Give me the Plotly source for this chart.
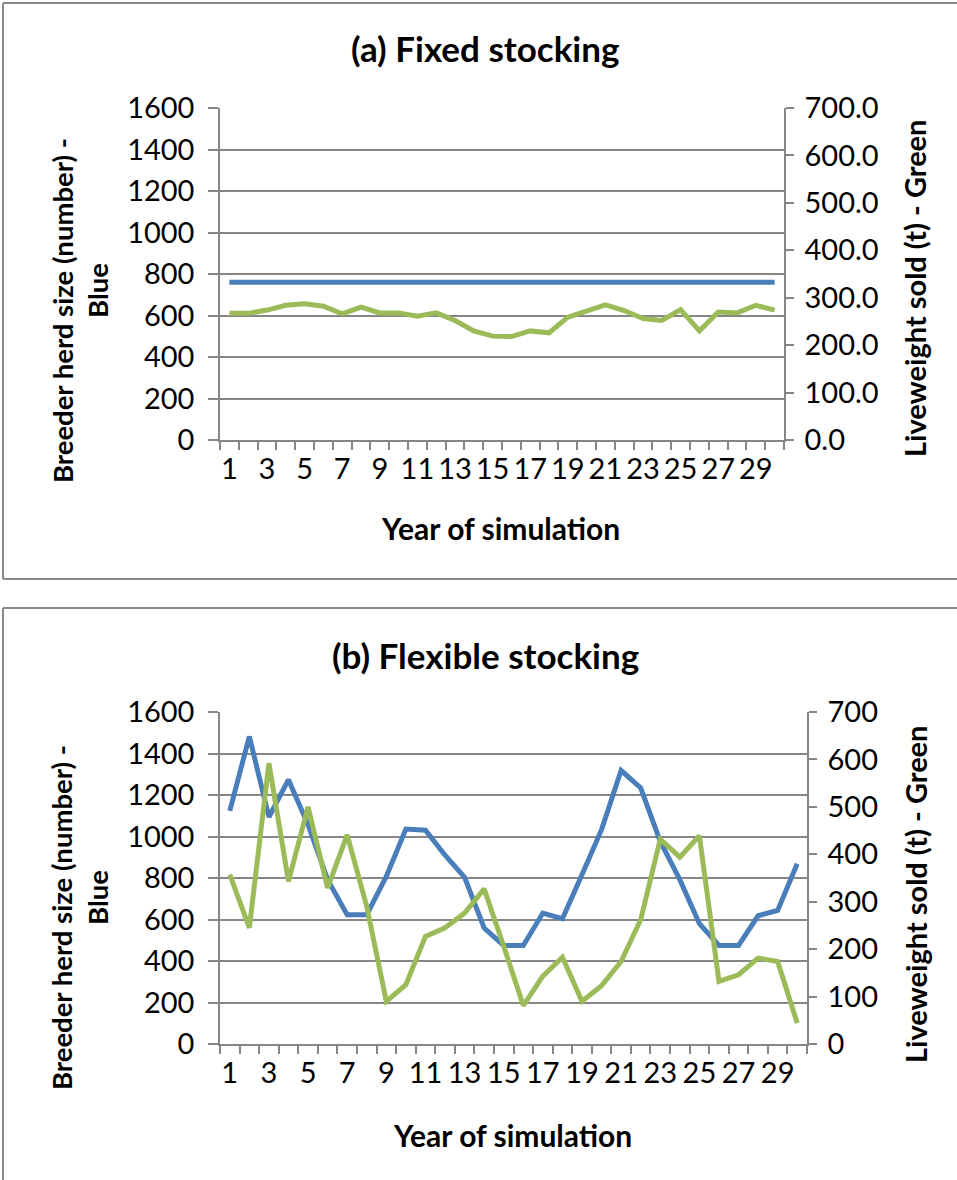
import plotly.graph_objects as go
from plotly.subplots import make_subplots

years = list(range(1, 31))

# (a) Fixed stocking
fixed_herd = [760] * 30
fixed_lw = [267, 267, 274, 284, 287, 282, 266, 280, 268, 268,
            261, 268, 252, 230, 219, 218, 230, 226, 259, 271,
            285, 273, 256, 252, 275, 230, 270, 268, 284, 274]

# (b) Flexible stocking
flex_herd = [1124, 1482, 1094, 1274, 1057, 792, 623, 623, 808, 1036,
             1030, 910, 803, 559, 475, 475, 631, 604, 816, 1033,
             1318, 1234, 976, 792, 580, 475, 475, 618, 644, 869]
flex_lw = [357, 245, 592, 343, 500, 329, 441, 290, 90, 125,
           227, 245, 276, 327, 206, 81, 143, 183, 90, 123,
           174, 262, 432, 394, 439, 132, 146, 181, 174, 44]

x_ticks = list(range(1, 30, 2))
left_ticks = list(range(0, 1601, 200))
right_ticks = list(range(0, 701, 100))

BLUE = "#4A7EBB"
GREEN = "#9BBB59"
GRID = "#868686"
FONT = "Lato"
W, H = 957, 1180

fig = make_subplots(rows=2, cols=1,
                    specs=[[{"secondary_y": True}], [{"secondary_y": True}]])

fig.add_trace(go.Scatter(x=years, y=fixed_herd, mode="lines",
                         line=dict(color=BLUE, width=5), showlegend=False),
              row=1, col=1, secondary_y=False)
fig.add_trace(go.Scatter(x=years, y=fixed_lw, mode="lines",
                         line=dict(color=GREEN, width=5), showlegend=False),
              row=1, col=1, secondary_y=True)
fig.add_trace(go.Scatter(x=years, y=flex_herd, mode="lines",
                         line=dict(color=BLUE, width=5), showlegend=False),
              row=2, col=1, secondary_y=False)
fig.add_trace(go.Scatter(x=years, y=flex_lw, mode="lines",
                         line=dict(color=GREEN, width=5), showlegend=False),
              row=2, col=1, secondary_y=True)

def px_x(p):
    return p / W

def px_y(p):
    return 1 - p / H

tick_font = dict(family=FONT, size=29, color="black")

xcommon = dict(range=[0.5, 30.5], tickvals=x_ticks, ticktext=[str(v) for v in x_ticks],
               showgrid=False, zeroline=False, showline=True, linecolor=GRID, linewidth=1.5,
               ticks="outside", ticklen=0, tickcolor=GRID, tickfont=tick_font,
               automargin=False, ticklabelstandoff=2,
               minor=dict(tick0=0.5, dtick=1, ticks="outside", ticklen=8,
                          tickcolor=GRID, tickwidth=1.5, showgrid=False))
ycommon = dict(range=[0, 1600], tickvals=left_ticks, showgrid=True, gridcolor=GRID,
               gridwidth=1.5, zeroline=False, showline=True, linecolor=GRID, linewidth=1.5,
               ticks="outside", ticklen=10, tickcolor=GRID, tickwidth=1.5,
               tickfont=tick_font, automargin=False, ticklabelstandoff=8)
y2common = dict(range=[0, 700], tickvals=right_ticks, showgrid=False, zeroline=False,
                showline=True, linecolor=GRID, linewidth=1.5, ticks="outside",
                ticklen=8, tickcolor=GRID, tickwidth=1.5, tickfont=tick_font,
                automargin=False, ticklabelstandoff=5)

fig.update_layout(
    xaxis=dict(domain=[px_x(220), px_x(784)], **xcommon),
    xaxis2=dict(domain=[px_x(220), px_x(807)], **xcommon),
    yaxis=dict(domain=[px_y(440), px_y(108)], **ycommon),
    yaxis2=dict(tickformat=".1f", **y2common),
    yaxis3=dict(domain=[px_y(1044), px_y(712)], **ycommon),
    yaxis4=dict(tickformat="d", **y2common),
)

anns = []
def ann(text, x, y, size, angle=0, bold=True):
    anns.append(dict(text=f"<b>{text}</b>" if bold else text, x=px_x(x), y=px_y(y),
                     xref="paper", yref="paper", showarrow=False, textangle=angle,
                     xanchor="center", yanchor="middle",
                     font=dict(family=FONT, size=size, color="black")))

for off, title, xc, rt in [(0, "(a) Fixed stocking", 501, 289),
                            (607, "(b) Flexible stocking", 512, 895)]:
    ann(title, 485, 48 + off, 35)
    ann("Breeder herd size (number) -", 62, 311 + off, 27.5, -90)
    ann("Blue", 97, 291 + off, 27.5, -90)
    ann("Liveweight sold (t) - Green", 915, rt, 29, -90)
    ann("Year of simulation", xc, 528 + off, 30)

BORDER = dict(color="#898989", width=2)
def seg(x0, y0, x1, y1):
    return dict(type="line", xref="paper", yref="paper", x0=px_x(x0), x1=px_x(x1),
                y0=px_y(y0), y1=px_y(y1), line=BORDER)

shapes = [
    seg(3, 3, 957, 3), seg(3, 3, 3, 579), seg(3, 579, 957, 579),
    seg(3, 608, 957, 608), seg(3, 608, 3, 1180),
]

fig.update_layout(width=W, height=H, margin=dict(l=0, r=0, t=0, b=0, autoexpand=False),
                  paper_bgcolor="white", plot_bgcolor="white",
                  annotations=anns, shapes=shapes, showlegend=False)

fig.write_html("out.html")
